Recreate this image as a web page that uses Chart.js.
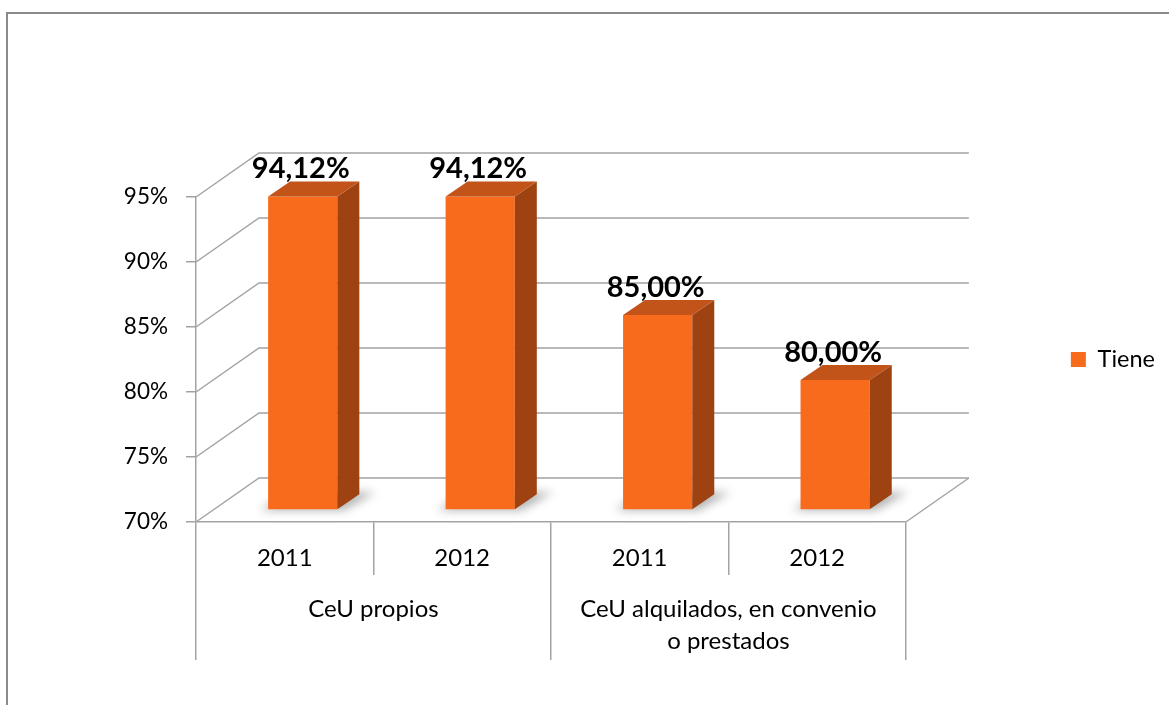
<!DOCTYPE html>
<html>
<head>
<meta charset="utf-8">
<script src="https://cdn.jsdelivr.net/npm/chart.js@4.4.0/dist/chart.umd.min.js"></script>
<style>
  html, body { margin: 0; padding: 0; background: #fff; }
</style>
</head>
<body>
<canvas id="chart" width="1169" height="705"></canvas>
<script>
// data
const years = ['2011', '2012', '2011', '2012'];
const groups = ['CeU propios', ['CeU alquilados, en convenio', 'o prestados']];
const seriesName = 'Tiene';
const tiene = [94.12, 94.12, 85.00, 80.00];
const yTicks = [70, 75, 80, 85, 90, 95];

const gridColor = '#a3a3a3';
const FONT = 'Lato';

// fake 3D offsets (pixels)
const BACK = { dx: 63, dy: -44 };     // back wall relative to front plane
const BAR_POS = { dx: 18, dy: -12 };  // bar front face relative to front plane
const BAR_DEPTH = { dx: 22, dy: -15 }; // bar thickness

const fmt = v => v.toFixed(2).replace('.', ',') + '%';

const threeD = {
    id: 'threeD',
    beforeDraw(chart) {
        const ctx = chart.ctx;
        // outer frame (top + left only)
        ctx.save();
        ctx.strokeStyle = '#8a8a8a';
        ctx.lineWidth = 2;
        ctx.beginPath();
        ctx.moveTo(7, 705);
        ctx.lineTo(7, 13);
        ctx.lineTo(1169, 13);
        ctx.stroke();
        ctx.restore();
    },
    beforeDatasetsDraw(chart) {
        const { ctx, chartArea: a, scales: { y } } = chart;
        ctx.save();
        ctx.strokeStyle = gridColor;
        ctx.lineWidth = 1.5;
        yTicks.forEach(v => {
            const py = y.getPixelForValue(v);
            ctx.beginPath();
            ctx.moveTo(a.left, py);
            ctx.lineTo(a.left + BACK.dx, py + BACK.dy);
            ctx.lineTo(a.right + BACK.dx, py + BACK.dy);
            ctx.stroke();
        });
        // floor right edge
        const fy = y.getPixelForValue(yTicks[0]);
        ctx.beginPath();
        ctx.moveTo(a.right, fy);
        ctx.lineTo(a.right + BACK.dx, fy + BACK.dy);
        ctx.stroke();
        ctx.restore();

        // bars sit half way into the box
        ctx.save();
        ctx.translate(BAR_POS.dx, BAR_POS.dy);

        // soft floor shadows
        const meta = chart.getDatasetMeta(0);
        meta.data.forEach(bar => {
            const { x, width, base } = bar.getProps(['x', 'width', 'base'], true);
            const l = x - width / 2, r = x + width / 2;
            ctx.save();
            ctx.filter = 'blur(5px)';
            ctx.fillStyle = 'rgba(0,0,0,0.3)';
            ctx.beginPath();
            ctx.moveTo(l - 8, base + 1);
            ctx.lineTo(r + 6, base + 1);
            ctx.lineTo(r + BAR_DEPTH.dx + 16, base + BAR_DEPTH.dy - 2);
            ctx.lineTo(l + BAR_DEPTH.dx - 2, base + BAR_DEPTH.dy - 2);
            ctx.closePath();
            ctx.fill();
            ctx.restore();
        });
    },
    afterDatasetsDraw(chart) {
        const ctx = chart.ctx;
        const meta = chart.getDatasetMeta(0);
        meta.data.forEach((bar, i) => {
            const { x, y, width, base } = bar.getProps(['x', 'y', 'width', 'base'], true);
            const l = x - width / 2, r = x + width / 2;
            const { dx, dy } = BAR_DEPTH;
            // side
            ctx.fillStyle = '#9f4212';
            ctx.beginPath();
            ctx.moveTo(r, y);
            ctx.lineTo(r + dx, y + dy);
            ctx.lineTo(r + dx, base + dy);
            ctx.lineTo(r, base);
            ctx.closePath();
            ctx.fill();
            // top
            ctx.fillStyle = '#c2541a';
            ctx.beginPath();
            ctx.moveTo(l, y);
            ctx.lineTo(l + dx, y + dy);
            ctx.lineTo(r + dx, y + dy);
            ctx.lineTo(r, y);
            ctx.closePath();
            ctx.fill();
            // value label
            ctx.fillStyle = '#000';
            ctx.font = 'bold 29px ' + FONT;
            ctx.textAlign = 'center';
            ctx.textBaseline = 'alphabetic';
            ctx.fillText(fmt(tiene[i]), x - 2, y - 18);
        });
        ctx.restore();
    }
};

Chart.defaults.font.family = FONT;
Chart.defaults.color = '#000';

new Chart(document.getElementById('chart'), {
    type: 'bar',
    data: {
        labels: years,
        datasets: [{
            label: seriesName,
            data: tiene,
            base: yTicks[0],
            backgroundColor: '#f96b1c',
            borderColor: '#b04a10',
            borderWidth: 0,
            categoryPercentage: 1,
            barPercentage: 0.39,
            clip: false
        }]
    },
    options: {
        responsive: false,
        animation: false,
        devicePixelRatio: 1,
        layout: { padding: { top: 197, left: 0, bottom: 45, right: 4 } },
        plugins: {
            legend: {
                position: 'right',
                fullSize: false,
                labels: { boxWidth: 15, boxHeight: 15, padding: 10, font: { size: 23.5 } }
            },
            tooltip: { enabled: false }
        },
        scales: {
            y: {
                min: 70,
                max: 95,
                afterFit: s => { s.width = 196; },
                afterBuildTicks: s => { s.ticks = yTicks.map(v => ({ value: v })); },
                ticks: { callback: v => v + '%', padding: 18, font: { size: 22.5 } },
                grid: { drawOnChartArea: false, tickLength: 10, color: gridColor, lineWidth: 1.5 },
                border: { display: true, color: gridColor, width: 1.5 }
            },
            yr: {
                type: 'linear',
                position: 'right',
                afterFit: s => { s.width = 155; },
                ticks: { display: false },
                grid: { display: false },
                border: { display: false }
            },
            x: {
                weight: 1,
                afterFit: s => { s.height = 53; },
                ticks: { padding: -31, maxRotation: 0, autoSkip: false, font: { size: 24 } },
                grid: { offset: true, drawOnChartArea: false, tickLength: 53, color: gridColor, lineWidth: 1.5 },
                border: { display: true, color: gridColor, width: 1.5 }
            },
            x2: {
                type: 'category',
                position: 'bottom',
                labels: groups,
                offset: true,
                weight: 2,
                afterFit: s => { s.height = 85; },
                ticks: { padding: -67, maxRotation: 0, autoSkip: false, font: { size: 24, lineHeight: 1.333 } },
                grid: { offset: true, drawOnChartArea: false, tickLength: 85, color: gridColor, lineWidth: 1.5 },
                border: { display: false }
            }
        }
    },
    plugins: [threeD]
});
</script>
</body>
</html>
